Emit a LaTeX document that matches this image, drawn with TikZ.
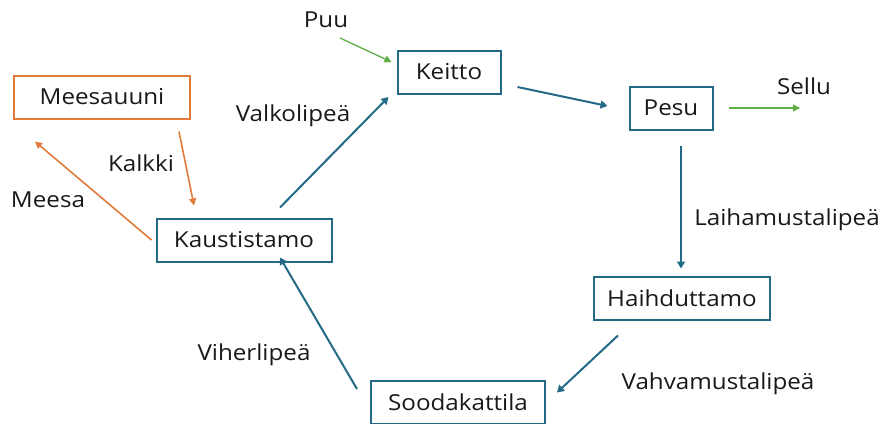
\documentclass[tikz,border=0pt]{standalone}
\usepackage{fontspec}
\setmainfont{Open Sans}[FakeStretch=1.1]
\usetikzlibrary{arrows.meta,calc}
\definecolor{teal}{HTML}{246A86}
\definecolor{orng}{HTML}{E07B39}
\definecolor{grn}{HTML}{5DAE45}
\begin{document}
\begin{tikzpicture}[x=1pt,y=-1pt,
  font=\fontsize{22}{26}\selectfont,
  box/.style={draw=teal,line width=2pt,minimum height=43pt,inner sep=0pt,text=black!90},
  obox/.style={box,draw=orng},
  flow/.style={draw=teal,line width=2pt,-{Triangle[width=8pt,length=7pt]}},
  oflow/.style={draw=orng,line width=1.6pt,-{Triangle[width=7pt,length=7pt]}},
  gflow/.style={draw=grn,line width=1.3pt,-{Triangle[width=7pt,length=7pt]}},
  lbl/.style={text=black!90,inner sep=0pt}]
\useasboundingbox (0,0) rectangle (886,423);
\clip (0,0) rectangle (886,423);
\node[obox,minimum width=176pt] (mees) at (102,97) {Meesauuni};
\node[box,minimum width=175pt] (kaus) at (244,240) {Kaustistamo};
\node[box,minimum width=103pt] (keit) at (449,72) {Keitto};
\node[box,minimum width=83pt] (pesu) at (671,108) {Pesu};
\node[box,minimum width=176pt] (haih) at (682,298) {Haihduttamo};
\node[box,minimum width=174pt] (sood) at (458,402.5) {Soodakattila};
\node[lbl] (puu) at (326,20) {Puu};
\node[lbl] (sellu) at (804,86) {Sellu};
\node[lbl] at (293,116) {Valkolipeä};
\node[lbl] at (141,163) {Kalkki};
\node[lbl] at (48,200) {Meesa};
\node[lbl] at (787,220) {Laihamustalipeä};
\node[lbl] at (718,384) {Vahvamustalipeä};
\node[lbl] at (254,355) {Viherlipeä};
\coordinate (sellend) at (800,108);
\draw[gflow] ($(puu)+(14,18)$) -- ($(keit.west)+(-5,-10)$);
\draw[gflow] ($(pesu.east)+(15,0)$) -- (sellend);
\draw[flow] ($(keit.east)+(16,15)$) -- ($(pesu.west)+(-21,-2)$);
\draw[flow] ($(pesu.south)+(10,15)$) -- ($(haih.north)+(-1,-7)$);
\draw[flow] ($(haih.south)+(-64,15)$) -- ($(sood.east)+(11,-10)$);
\draw[flow] ($(sood.north)+(-101,9)$) -- ($(kaus.north)+(36,40)$);
\draw[flow] ($(kaus.north)+(36,-10)$) -- ($(keit.west)+(-8,25)$);
\draw[oflow] ($(mees.south)+(77,12)$) -- ($(kaus.north)+(-50,-12)$);
\draw[oflow] ($(kaus.west)+(-4,0)$) -- ($(mees.south)+(-67,22)$);
\end{tikzpicture}
\end{document}
